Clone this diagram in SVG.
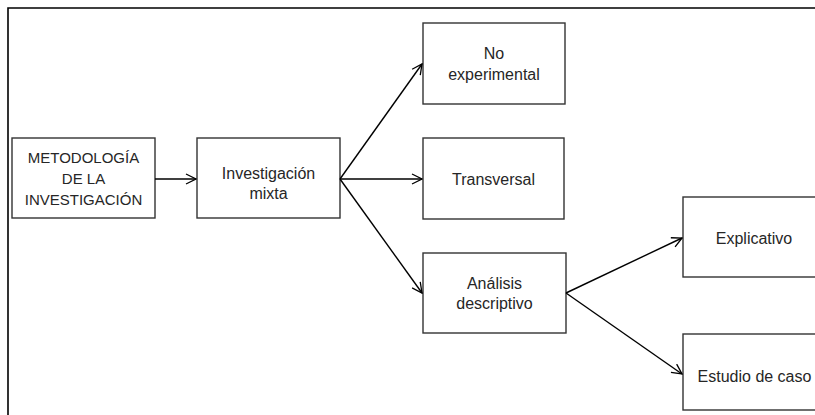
<svg xmlns="http://www.w3.org/2000/svg" width="815" height="415" viewBox="0 0 815 415">
<defs>
<marker id="arr" viewBox="0 0 12 12" refX="11" refY="6" markerWidth="12" markerHeight="12" markerUnits="userSpaceOnUse" orient="auto">
<path d="M1,1 L11,6 L1,11" fill="none" stroke="#000" stroke-width="1.3"/>
</marker>
<style>
.box{fill:#fff;stroke:#333;stroke-width:1.4}
.t{font-family:"Liberation Sans",Arial,sans-serif;font-size:16px;fill:#262626;text-anchor:middle}
.s{font-size:15px}
.c{stroke:#000;stroke-width:1.4;fill:none;marker-end:url(#arr)}
</style>
</defs>
<rect width="815" height="415" fill="#fff"/>
<path d="M8,420 L8,8 L820,8" fill="none" stroke="#000" stroke-width="1.6"/>
<g id="n1"><rect class="box" x="12" y="138" width="143" height="80"/>
<text class="t s" x="83.5" y="163">METODOLOGÍA</text><text class="t s" x="83.5" y="184">DE LA</text><text class="t s" x="83.5" y="205">INVESTIGACIÓN</text></g>
<g id="n2"><rect class="box" x="197" y="138" width="143" height="80"/>
<text class="t" x="268.5" y="179">Investigación</text><text class="t" x="268.5" y="199">mixta</text></g>
<g id="n3"><rect class="box" x="423" y="23" width="142" height="81"/>
<text class="t" x="494" y="59">No</text><text class="t" x="494" y="80">experimental</text></g>
<g id="n4"><rect class="box" x="423" y="138" width="141" height="81"/>
<text class="t" x="493.5" y="185">Transversal</text></g>
<g id="n5"><rect class="box" x="423" y="253" width="143" height="80"/>
<text class="t" x="494.5" y="289">Análisis</text><text class="t" x="494.5" y="309">descriptivo</text></g>
<g id="n6"><rect class="box" x="683" y="197" width="143" height="80"/>
<text class="t" x="754" y="244">Explicativo</text></g>
<g id="n7"><rect class="box" x="683" y="334" width="143" height="76"/>
<text class="t" x="754.5" y="382">Estudio de caso</text></g>
<g id="connectors">
<line class="c" x1="155" y1="179" x2="196" y2="179"/>
<line class="c" x1="340" y1="179" x2="422" y2="64"/>
<line class="c" x1="340" y1="179" x2="422" y2="179"/>
<line class="c" x1="340" y1="179" x2="422" y2="293"/>
<line class="c" x1="566" y1="293" x2="682" y2="238"/>
<line class="c" x1="566" y1="293" x2="682" y2="374"/>
</g>
</svg>
